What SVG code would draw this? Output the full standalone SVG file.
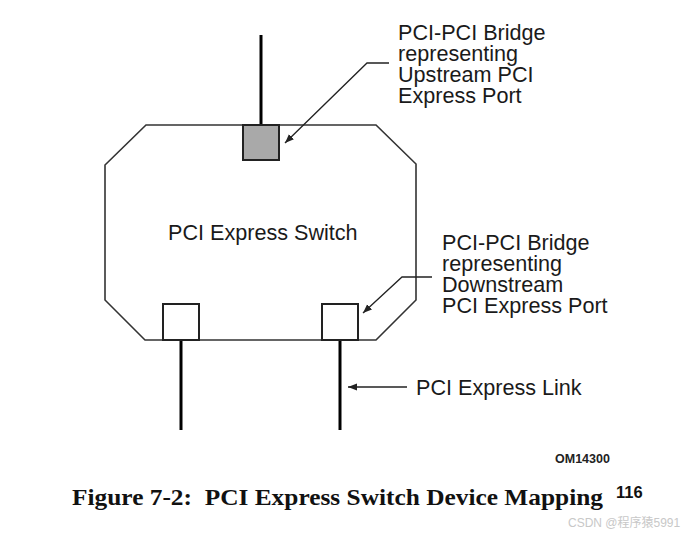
<svg xmlns="http://www.w3.org/2000/svg" width="691" height="534" viewBox="0 0 691 534">
<defs>
<style>
.lbl{font-family:"Liberation Sans",Arial,sans-serif;font-size:21.6px;fill:#1a1a1a}
.link{stroke:#000;stroke-width:3;fill:none}
.port{stroke:#222;stroke-width:2;fill:#fff}
.ptr{stroke:#222;stroke-width:1.3;fill:none}
</style>
<marker id="ah" viewBox="0 0 10 10" refX="10" refY="5" markerWidth="9" markerHeight="9" markerUnits="userSpaceOnUse" orient="auto">
<path d="M0,1 L10,5 L0,9 Z" fill="#222"/>
</marker>
</defs>
<rect width="691" height="534" fill="#fff"/>
<g id="switch">
<polygon points="146,125 376,125 416,164 416,300 376,340 145,340 105,300 105,165" fill="#fff" stroke="#333" stroke-width="1.6"/>
<text class="lbl" x="168" y="240">PCI Express Switch</text>
</g>
<g id="links">
<line class="link" x1="261" y1="35" x2="261" y2="125"/>
<line class="link" x1="181" y1="340" x2="181" y2="430"/>
<line class="link" x1="340" y1="340" x2="340" y2="430"/>
</g>
<g id="upstream-port">
<rect x="243" y="125" width="36" height="35" fill="#a9a9a9" stroke="#222" stroke-width="2"/>
</g>
<g id="downstream-port-1">
<rect class="port" x="163" y="304" width="36" height="36"/>
</g>
<g id="downstream-port-2">
<rect class="port" x="322" y="304" width="36" height="36"/>
</g>
<g id="connectors">
<polyline class="ptr" points="389,63 367,63 285,143" marker-end="url(#ah)"/>
<polyline class="ptr" points="432,277 402,277 363,313" marker-end="url(#ah)"/>
<line class="ptr" x1="407" y1="387" x2="348" y2="387" marker-end="url(#ah)"/>
</g>
<g id="upstream-label">
<text class="lbl"><tspan x="398" y="40">PCI-PCI Bridge</tspan><tspan x="398" y="61">representing</tspan><tspan x="398" y="82">Upstream PCI</tspan><tspan x="398" y="103">Express Port</tspan></text>
</g>
<g id="downstream-label">
<text class="lbl"><tspan x="442" y="250">PCI-PCI Bridge</tspan><tspan x="442" y="271">representing</tspan><tspan x="442" y="292">Downstream</tspan><tspan x="442" y="313">PCI Express Port</tspan></text>
</g>
<g id="link-label">
<text class="lbl" x="416" y="395">PCI Express Link</text>
</g>
<text x="555" y="463" font-family="Liberation Sans,Arial,sans-serif" font-size="12.5" font-weight="bold" fill="#222">OM14300</text>
<text x="72" y="505" font-family="Liberation Serif,'Times New Roman',serif" font-size="23" font-weight="bold" fill="#111" textLength="531" lengthAdjust="spacingAndGlyphs" xml:space="preserve">Figure 7-2:  PCI Express Switch Device Mapping</text>
<text x="616" y="498" font-family="Liberation Sans,Arial,sans-serif" font-size="16.5" font-weight="bold" fill="#111">116</text>
<text x="568" y="527" font-family="Liberation Sans,'Noto Sans CJK SC',sans-serif" font-size="12" fill="#c8c8c8">CSDN @程序猿5991</text>
</svg>
